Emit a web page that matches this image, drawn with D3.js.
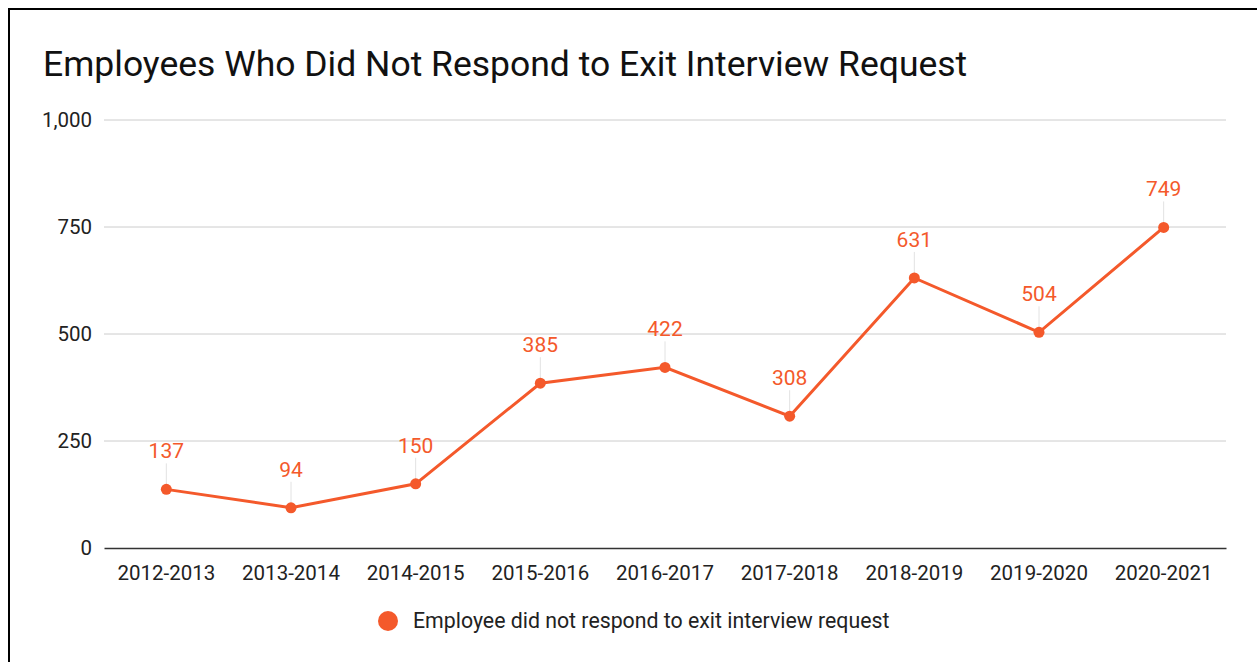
<!DOCTYPE html>
<html>
<head>
<meta charset="utf-8">
<script src="https://cdn.jsdelivr.net/npm/d3@7"></script>
<style>
  body { margin: 0; background: #fff; }
  svg { display: block; font-family: Roboto, sans-serif; }
</style>
</head>
<body>
<div id="chart"></div>
<script>
const years = ["2012-2013", "2013-2014", "2014-2015", "2015-2016", "2016-2017",
  "2017-2018", "2018-2019", "2019-2020", "2020-2021"];
const noResponse = [137, 94, 150, 385, 422, 308, 631, 504, 749];
const yTicks = [0, 250, 500, 750, 1000];
const seriesName = "Employee did not respond to exit interview request";
const title = "Employees Who Did Not Respond to Exit Interview Request";

const width = 1257, height = 662;
const orange = "#f4592b";

const svg = d3.select("#chart").append("svg")
  .attr("width", width)
  .attr("height", height);

// frame
svg.append("rect")
  .attr("x", 9).attr("y", 9)
  .attr("width", width + 20).attr("height", height + 20)
  .attr("fill", "none")
  .attr("stroke", "#000")
  .attr("stroke-width", 2);

svg.append("text")
  .attr("x", 43).attr("y", 76)
  .style("font-size", "35.5px")
  .attr("fill", "#111")
  .text(title);

const x = d3.scaleBand()
  .domain(years)
  .range([104, 1226]);

const y = d3.scaleLinear()
  .domain([0, 1000])
  .range([548, 120]);

// grid
svg.append("g")
  .selectAll("line")
  .data(yTicks.filter(d => d > 0))
  .join("line")
  .attr("x1", 104).attr("x2", 1226)
  .attr("y1", d => y(d)).attr("y2", d => y(d))
  .attr("stroke", "#cccccc")
  .attr("stroke-width", 1);

// y axis labels
const yAxis = svg.append("g")
  .attr("transform", "translate(104,0)")
  .call(d3.axisLeft(y).tickValues(yTicks).tickSize(0).tickPadding(12).tickFormat(d3.format(",")));
yAxis.select(".domain").remove();
yAxis.selectAll("text")
  .style("font-family", "Roboto, sans-serif")
  .style("font-size", "20.5px")
  .attr("fill", "#222");

// x axis
const xAxis = svg.append("g")
  .attr("transform", `translate(0,${y(0)})`)
  .call(d3.axisBottom(x).tickSize(0).tickPadding(17));
xAxis.select(".domain").attr("stroke", "#333").attr("stroke-width", 1.5);
xAxis.selectAll("text")
  .style("font-family", "Roboto, sans-serif")
  .style("font-size", "20.5px")
  .attr("fill", "#222");

const cx = d => x(d) + x.bandwidth() / 2;

// leader lines
svg.append("g")
  .selectAll("line")
  .data(years)
  .join("line")
  .attr("x1", d => cx(d)).attr("x2", d => cx(d))
  .attr("y1", (d, i) => y(noResponse[i]) - 26)
  .attr("y2", (d, i) => y(noResponse[i]))
  .attr("stroke", "#e2e2e2")
  .attr("stroke-width", 1);

const line = d3.line()
  .x(d => cx(d[0]))
  .y(d => y(d[1]));

svg.append("path")
  .datum(years.map((d, i) => [d, noResponse[i]]))
  .attr("d", line)
  .attr("fill", "none")
  .attr("stroke", orange)
  .attr("stroke-width", 3);

svg.append("g")
  .selectAll("circle")
  .data(years)
  .join("circle")
  .attr("cx", d => cx(d))
  .attr("cy", (d, i) => y(noResponse[i]))
  .attr("r", 5.5)
  .attr("fill", orange);

svg.append("g")
  .selectAll("text")
  .data(years)
  .join("text")
  .attr("x", d => cx(d))
  .attr("y", (d, i) => y(noResponse[i]) - 31)
  .attr("text-anchor", "middle")
  .style("font-size", "21px")
  .attr("fill", orange)
  .text((d, i) => noResponse[i]);

// legend
svg.append("circle")
  .attr("cx", 388).attr("cy", 621).attr("r", 10)
  .attr("fill", orange);
svg.append("text")
  .attr("x", 413).attr("y", 628)
  .style("font-size", "21.3px")
  .attr("fill", "#222")
  .text(seriesName);
</script>
</body>
</html>
